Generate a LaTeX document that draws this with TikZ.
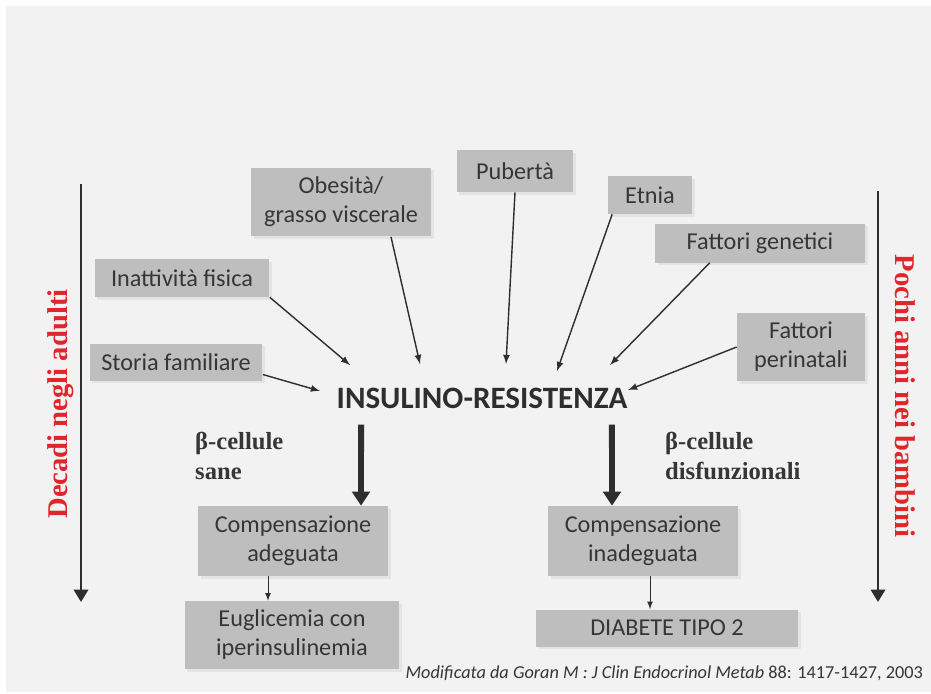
\documentclass[tikz,border=0pt]{standalone}
\usepackage{fontspec}
\setmainfont{Carlito}
\newfontfamily\serifbf{Liberation Serif}
\usetikzlibrary{arrows.meta,shadows}
\definecolor{boxgray}{HTML}{BEBEBE}
\definecolor{txtgray}{HTML}{363636}
\definecolor{linegray}{HTML}{2E2E2E}
\definecolor{sidered}{HTML}{E1262B}
\definecolor{bggray}{HTML}{F2F2F2}
\begin{document}
\begin{tikzpicture}[x=0.02cm,y=-0.02cm,>=latex,
    factor/.style={fill=boxgray, text=txtgray, align=center, inner sep=2pt,
      font=\fontsize{13.8}{16.5}\selectfont,
      drop shadow={opacity=0.12, shadow xshift=1.5pt, shadow yshift=-1.5pt}},
    thin arrow/.style={->, draw=linegray, line width=0.8pt},
    fat arrow/.style={-{Triangle[width=10pt,length=8pt]}, draw=linegray, line width=3.4pt},
    side arrow/.style={-{Triangle[width=8pt,length=7pt]}, draw=linegray, line width=1.7pt},
    betacells/.style={align=left, anchor=north west, text=txtgray, font=\serifbf\bfseries\fontsize{14}{17}\selectfont},
    sidelabel/.style={text=sidered, font=\serifbf\bfseries\fontsize{16.3}{18}\selectfont}]
      \useasboundingbox (0,0) rectangle (931,694);
      \fill[bggray] (6,6) rectangle (931,692);

      % Draw the risk factors
      \node[factor, minimum width=3.6cm, minimum height=1.38cm] at (341,202) (obes) {Obesità/\\grasso viscerale};
      \node[factor, minimum width=2.34cm, minimum height=0.84cm] at (515,171) (pub) {Pubertà};
      \node[factor, minimum width=1.7cm, minimum height=0.76cm] at (650,195) (etnia) {Etnia};
      \node[factor, minimum width=4.2cm, minimum height=0.78cm] at (760,243) (genet) {Fattori genetici};
      \node[factor, minimum width=3.5cm, minimum height=0.76cm] at (182,278) (inatt) {Inattività fisica};
      \node[factor, minimum width=3.46cm, minimum height=0.74cm] at (176,362) (storia) {Storia familiare};
      \node[factor, minimum width=2.56cm, minimum height=1.36cm] at (801,347) (perin) {Fattori\\perinatali};

      % Draw the central node and the arrow ends around it
      \node[text=linegray, font=\bfseries\fontsize{17.7}{19}\selectfont] at (482,398) (ir) {INSULINO-RESISTENZA};
      \coordinate (endStoria) at (320,391);
      \coordinate (endInatt) at (350,365);
      \coordinate (endObes) at (420,364);
      \coordinate (endPub) at (506,364);
      \coordinate (endEtnia) at (557,371);
      \coordinate (endGenet) at (610,365);
      \coordinate (endPerin) at (628,390);
      \draw[thin arrow] ([yshift=-0.25cm]storia.east) -- (endStoria);
      \draw[thin arrow] (inatt.south east) -- (endInatt);
      \draw[thin arrow] ([xshift=1cm]obes.south) -- (endObes);
      \draw[thin arrow] (pub.south) -- (endPub);
      \draw[thin arrow] ([xshift=0.1cm]etnia.south west) -- (endEtnia);
      \draw[thin arrow] ([xshift=1.1cm]genet.south west) -- (endGenet);
      \draw[thin arrow] (perin.west) -- (endPerin);

      % Draw the two outcomes
      \node[betacells] at (189,426) (sane) {β-cellule\\sane};
      \node[betacells] at (659,426) (disf) {β-cellule\\disfunzionali};
      \node[factor, minimum width=3.8cm, minimum height=1.4cm] at (293,541) (compA) {Compensazione\\adeguata};
      \node[factor, minimum width=3.8cm, minimum height=1.4cm] at (643,541) (compI) {Compensazione\\inadeguata};
      \node[factor, minimum width=4.3cm, minimum height=1.36cm] at (292,635) (eugl) {Euglicemia con\\iperinsulinemia};
      \node[factor, minimum width=5.24cm, minimum height=0.74cm] at (667,628) (diab) {DIABETE TIPO 2};
      \draw[fat arrow] ([xshift=-2.42cm,yshift=-0.2cm]ir.south) -- ([xshift=1.36cm]compA.north);
      \draw[fat arrow] ([xshift=2.6cm,yshift=-0.2cm]ir.south) -- ([xshift=-0.62cm]compI.north);
      \draw[->, draw=linegray, line width=0.5pt] ([xshift=-0.5cm]compA.south) -- ([xshift=-0.5cm]compA.south |- eugl.north);
      \draw[->, draw=linegray, line width=0.5pt] ([xshift=0.14cm]compI.south) -- ([xshift=0.14cm]compI.south |- diab.north);

      % Draw the time arrows on both sides
      \coordinate (leftTop) at (81,184);
      \coordinate (leftEnd) at (81,602);
      \coordinate (rightTop) at (878,191);
      \coordinate (rightEnd) at (878,602);
      \draw[side arrow] (leftTop) -- (leftEnd);
      \draw[side arrow] (rightTop) -- (rightEnd);
      \node[sidelabel, rotate=90] at (61,404) (adulti) {Decadi negli adulti};
      \node[sidelabel, rotate=-90] at (905,396) (bambini) {Pochi anni nei bambini};

      % Draw the source line
      \node[anchor=east, text=txtgray, font=\itshape\fontsize{10.4}{12}\selectfont] at (929,673) (fonte) {Modificata da Goran M : J Clin Endocrinol Metab \upshape 88: 1417-1427, 2003};
    \end{tikzpicture}
\end{document}
